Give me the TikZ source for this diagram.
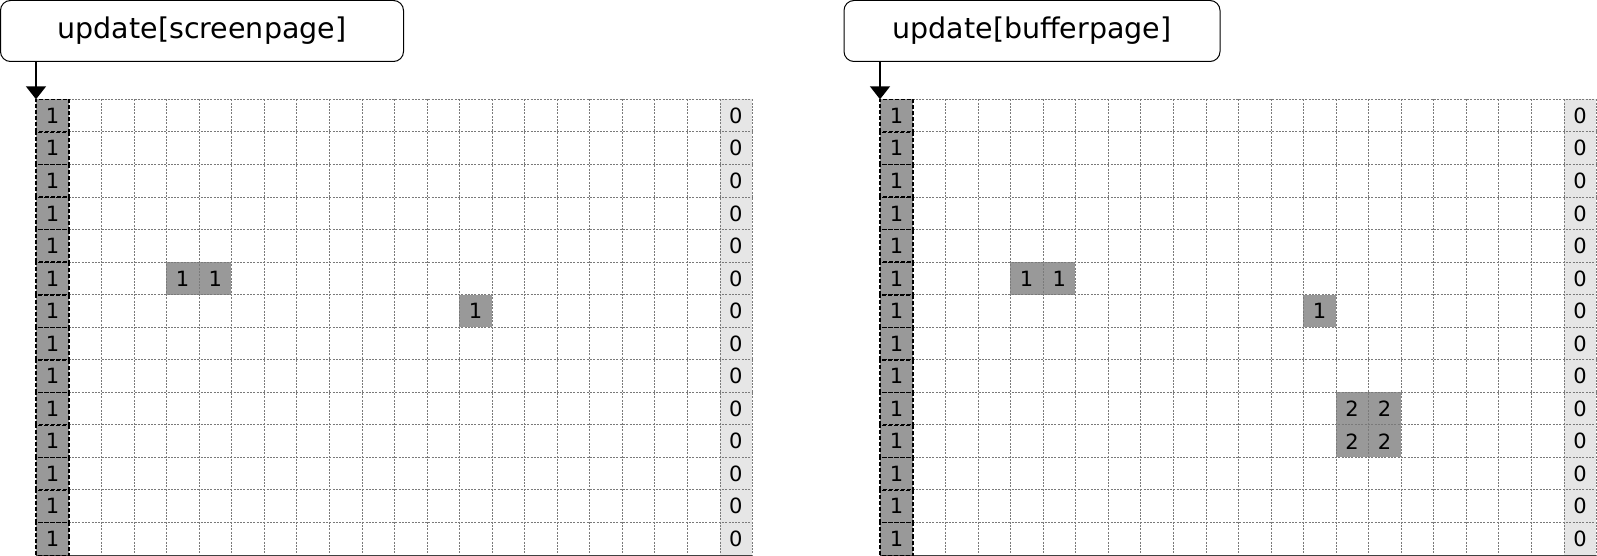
\documentclass[tikz,border=0pt]{standalone}
\usepackage{fontspec}
\setmainfont{DejaVu Sans}
\usetikzlibrary{arrows.meta}
\definecolor{cellgray}{HTML}{999999}
\definecolor{lightcell}{HTML}{E6E6E6}
\definecolor{gridline}{HTML}{7A7A7A}
% #1 prefix, #2 x0
\newcommand\pagecells[2]{%
  \foreach \r in {0,...,13}{
    \foreach \c in {1,...,20}{
      \node[cell] (#1\r-\c) at ({#2+\c*32.545},{99.3+\r*32.545}) {};
    }
    \node[lastcell] (#1\r-21) at ({#2+21*32.545},{99.3+\r*32.545}) {0};
    \node[firstcell] (#1\r-0) at ({#2},{99.3+\r*32.545}) {1};
  }
}
\newcommand\pagelines[1]{%
  \foreach \r in {0,...,13}{
    \draw[dotline] (#1\r-1.north west) -- (#1\r-21.north east);
  }
  \foreach \c in {1,...,21}{
    \draw[dotline] (#10-\c.north east) -- (#113-\c.south east);
  }
  \draw[bottomline] (#113-0.south west) -- (#113-21.south east);
  \foreach \r in {0,...,13}{
    \draw[dashline] (#1\r-0.south west) rectangle (#1\r-0.north east);
  }
}
\begin{document}
\begin{tikzpicture}[x=1pt,y=-1pt,
  cellbase/.style={minimum width=32.545pt, minimum height=32.545pt, inner sep=0pt,
    anchor=north west, font=\fontsize{21}{25}\selectfont},
  dotline/.style={draw=gridline, line width=0.7pt, dash pattern=on 2pt off 1.3pt},
  dashline/.style={draw=black, line width=1.2pt, dash pattern=on 4pt off 2pt},
  cell/.style={cellbase},
  lastcell/.style={cellbase, fill=lightcell},
  firstcell/.style={cellbase, fill=cellgray},
  markcell/.style={cellbase, fill=cellgray, anchor=center},
  bottomline/.style={draw=black!75, line width=0.9pt},
  pagebox/.style={draw=black, line width=1pt, rounded corners=10pt, minimum height=61pt,
    inner sep=0pt, font=\fontsize{28.5}{34}\selectfont},
  arr/.style={draw=black, line width=1.5pt, -{Triangle[width=20pt,length=13pt]}}
]
\useasboundingbox (0,0) rectangle (1597,556);
\fill[white] (0,0) rectangle (1597,556);

\node[pagebox, minimum width=403pt] (b1) at (202,31) {update[screenpage]};
\node[pagebox, minimum width=376pt] (b2) at (1032,31) {update[bufferpage]};

\pagecells{L}{36}
\pagecells{R}{880}

% left page marks
\node[markcell, at=(L5-4.center)] (L5-4m) {1};
\node[markcell, at=(L5-5.center)] (L5-5m) {1};
\node[markcell, at=(L6-13.center)] (L6-13m) {1};

% right page marks
\node[markcell, at=(R5-4.center)] (R5-4m) {1};
\node[markcell, at=(R5-5.center)] (R5-5m) {1};
\node[markcell, at=(R6-13.center)] (R6-13m) {1};
\node[markcell, at=(R9-14.center)] (R9-14m) {2};
\node[markcell, at=(R9-15.center)] (R9-15m) {2};
\node[markcell, at=(R10-14.center)] (R10-14m) {2};
\node[markcell, at=(R10-15.center)] (R10-15m) {2};

\pagelines{L}
\pagelines{R}

\draw[arr] (L0-0.north west |- b1.south) -- (L0-0.north west);
\draw[arr] (R0-0.north west |- b2.south) -- (R0-0.north west);
\end{tikzpicture}
\end{document}
